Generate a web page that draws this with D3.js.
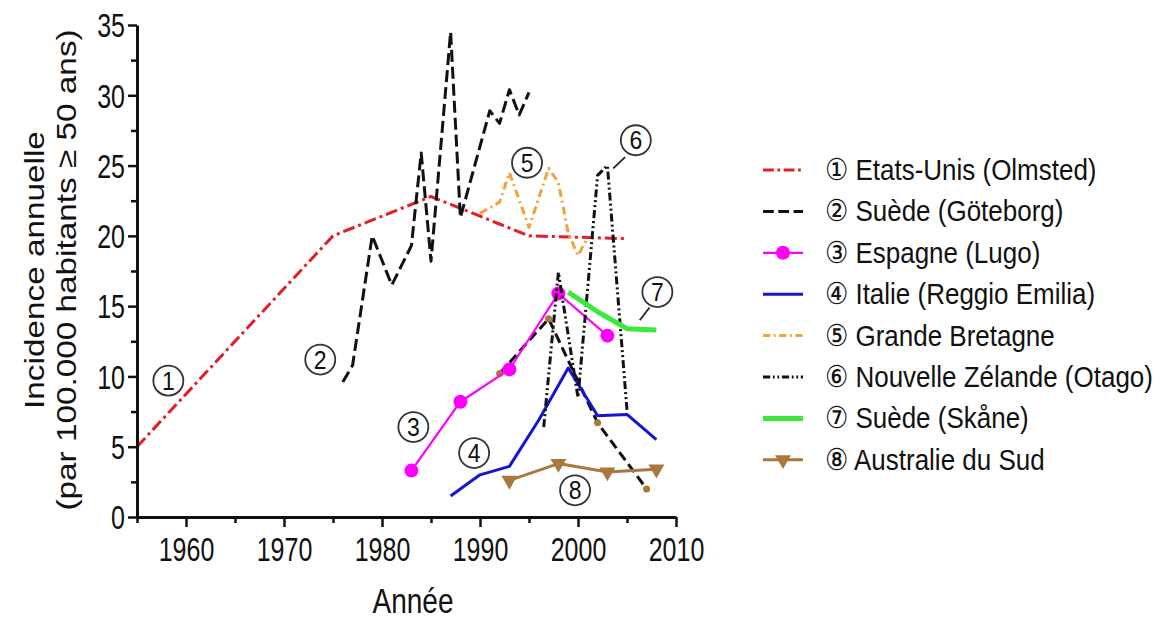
<!DOCTYPE html>
<html>
<head>
<meta charset="utf-8">
<script src="https://cdn.jsdelivr.net/npm/d3@7"></script>
<style>
  body { margin: 0; background: #fff; }
  text { font-family: "Liberation Sans", Arial, sans-serif; fill: #111; }
</style>
</head>
<body>
<svg id="chart" width="1165" height="621"></svg>
<script>
// Data: [year, incidence]
const olmsted   = [[1955, 5], [1975, 20], [1985, 22.8], [1995, 20], [2005, 19.8]];
const goteborg  = [[1976, 9.6], [1977, 10.8], [1979, 20], [1981, 16.5], [1983, 19.3], [1984, 25.9],
                   [1985, 18.2], [1987, 34.5], [1988, 21.3], [1991, 28.9], [1992, 28], [1993, 30.4],
                   [1994, 28.6], [1995, 30.2]];
const lugo      = [[1983, 3.3], [1988, 8.2], [1993, 10.5], [1998, 15.9], [2003, 12.9]];
const reggio    = [[1987, 1.5], [1990, 3.0], [1993, 3.6], [1996, 6.9], [1999, 10.6], [2002, 7.2],
                   [2005, 7.3], [2008, 5.5]];
const grandeBretagne = [[1990, 21.6], [1992, 22.4], [1993, 24.5], [1995, 20.6], [1997, 24.8],
                   [1998, 23.8], [1999, 20.2], [2000, 18.6], [2001, 19.9]];
const otago     = [[1996.5, 6.4], [1998, 17.4], [2000, 8.5], [2002, 24.3], [2003, 25], [2005, 7.6]];
const skane     = [[1999, 16], [2002, 14.6], [2005, 13.4], [2008, 13.3]];
const australie = [[1993, 2.6], [1998, 3.8], [2003, 3.2], [2008, 3.4]];
const extra     = [[1992, 10.2], [1997, 14.1], [2002, 6.7], [2007, 2.0]];

const xTicks = [1960, 1970, 1980, 1990, 2000, 2010];
const xMinor = [1955, 1965, 1975, 1985, 1995, 2005];
const yTicks = [0, 5, 10, 15, 20, 25, 30, 35];
const yMinor = [2.5, 7.5, 12.5, 17.5, 22.5, 27.5, 32.5];

const legendLabels = ["① Etats-Unis (Olmsted)", "② Suède (Göteborg)", "③ Espagne (Lugo)",
  "④ Italie (Reggio Emilia)", "⑤ Grande Bretagne", "⑥ Nouvelle Zélande (Otago)",
  "⑦ Suède (Skåne)", "⑧ Australie du Sud"];

// circled labels placed in data coords
const annotations = [["1", 1958.2, 9.7], ["2", 1973.7, 11.2], ["3", 1983.2, 6.4], ["4", 1989.4, 4.55],
  ["5", 1994.8, 25.2], ["6", 2005.9, 26.8], ["7", 2008.1, 16.0], ["8", 1999.7, 1.9]];
const leaders = [[[2004.8, 25.6], [2003.6, 24.8]], [[2007.3, 14.9], [2006.3, 14.0]]];

const svg = d3.select("#chart");
svg.append("rect").attr("width", 1165).attr("height", 621).attr("fill", "#fff");

const x = d3.scaleLinear().domain([1955, 2010]).range([137, 676]);
const y = d3.scaleLinear().domain([0, 35]).range([517, 25]);

// Series styles
const series = [
  { data: olmsted, color: "#e41e26", width: 3, dash: "12,4,3,4" },
  { data: goteborg, color: "#111", width: 3, dash: "12,5" },
  { data: lugo, color: "#f0f", width: 2.2, dash: null, marker: "circle" },
  { data: reggio, color: "#1414d4", width: 3, dash: null },
  { data: grandeBretagne, color: "#f2a33a", width: 3, dash: "8,4,2,4" },
  { data: otago, color: "#111", width: 3, dash: "8,3,2,3,2,3" },
  { data: skane, color: "#3de83d", width: 5, dash: null },
  { data: australie, color: "#a9783f", width: 3, dash: null, marker: "triangle" }
];

const line = d3.line().x(d => x(d[0])).y(d => y(d[1]));

// extra unlabeled series (black dashes with brown points)
svg.append("path").datum(extra)
  .attr("fill", "none").attr("stroke", "#111").attr("stroke-width", 3)
  .attr("stroke-dasharray", "10,5").attr("d", line);
svg.selectAll(".extraDot").data(extra).enter().append("circle")
  .attr("cx", d => x(d[0])).attr("cy", d => y(d[1])).attr("r", 3.5).attr("fill", "#a9783f");

series.forEach(s => {
  svg.append("path").datum(s.data)
    .attr("fill", "none")
    .attr("stroke", s.color)
    .attr("stroke-width", s.width)
    .attr("stroke-dasharray", s.dash)
    .attr("stroke-linejoin", "round")
    .attr("d", line);
  if (s.marker === "circle") {
    svg.selectAll(null).data(s.data).enter().append("circle")
      .attr("cx", d => x(d[0])).attr("cy", d => y(d[1])).attr("r", 7).attr("fill", s.color);
  }
  if (s.marker === "triangle") {
    svg.selectAll(null).data(s.data).enter().append("path")
      .attr("transform", d => `translate(${x(d[0])},${y(d[1])}) rotate(180)`)
      .attr("d", d3.symbol(d3.symbolTriangle, 110))
      .attr("fill", s.color);
  }
});

// Annotations
const ann = svg.append("g");
ann.selectAll("circle").data(annotations).enter().append("circle")
  .attr("cx", d => x(d[1])).attr("cy", d => y(d[2])).attr("r", 15)
  .attr("fill", "none").attr("stroke", "#333").attr("stroke-width", 1.8);
ann.selectAll("text").data(annotations).enter().append("text")
  .attr("transform", d => `translate(${x(d[1])},${y(d[2]) + 9}) scale(1,1.15)`)
  .attr("text-anchor", "middle").attr("font-size", 23).attr("fill", "#333").text(d => d[0]);
ann.selectAll("line").data(leaders).enter().append("line")
  .attr("x1", d => x(d[0][0])).attr("y1", d => y(d[0][1]))
  .attr("x2", d => x(d[1][0])).attr("y2", d => y(d[1][1]))
  .attr("stroke", "#222").attr("stroke-width", 1.8);

// Axes
const xAxis = svg.append("g").attr("transform", `translate(0,${y(0)})`)
  .call(d3.axisBottom(x).tickValues(xTicks).tickSize(10).tickSizeOuter(0).tickFormat(d3.format("d")));
svg.append("g").attr("transform", `translate(0,${y(0)})`)
  .call(d3.axisBottom(x).tickValues(xMinor).tickSize(6).tickFormat(""))
  .select(".domain").remove();
const yAxis = svg.append("g").attr("transform", `translate(${x(1955)},0)`)
  .call(d3.axisLeft(y).tickValues(yTicks).tickSize(9).tickSizeOuter(0));
svg.append("g").attr("transform", `translate(${x(1955)},0)`)
  .call(d3.axisLeft(y).tickValues(yMinor).tickSize(6).tickFormat(""))
  .select(".domain").remove();

svg.selectAll(".domain").attr("stroke", "#111").attr("stroke-width", 3);
svg.selectAll(".tick line").attr("stroke", "#111").attr("stroke-width", 2.5);
xAxis.selectAll("text").attr("font-size", 25).attr("y", 0).attr("dy", 0)
  .attr("transform", "translate(0,44) scale(1,1.3)")
  .attr("font-family", "Liberation Sans, Arial, sans-serif").attr("fill", "#111");
yAxis.selectAll("text").attr("font-size", 25).attr("x", 0).attr("dy", "0.36em")
  .attr("transform", "translate(-12,0) scale(1,1.3)")
  .attr("font-family", "Liberation Sans, Arial, sans-serif").attr("fill", "#111");

// Axis titles
svg.append("text").attr("transform", "translate(413,613) scale(1,1.25)").attr("text-anchor", "middle")
  .attr("font-size", 28).text("Année");
const yt = svg.append("text").attr("transform", "translate(44,270) rotate(-90) scale(1.19,1)")
  .attr("text-anchor", "middle").attr("font-size", 28);
yt.append("tspan").attr("x", 0).attr("y", 0).text("Incidence annuelle");
yt.append("tspan").attr("x", 0).attr("y", 32).text("(par 100.000 habitants  ≥ 50 ans)");

// Legend
const legend = svg.append("g");
const legendRow = i => 170 + i * 41.4;
series.forEach((s, i) => {
  const cy = legendRow(i);
  legend.append("line").attr("x1", 763).attr("x2", 803).attr("y1", cy).attr("y2", cy)
    .attr("stroke", s.color).attr("stroke-width", s.width)
    .attr("stroke-dasharray", s.dash ? s.dash.split(",").map(v => v * 0.9).join(",") : null);
  if (s.marker === "circle") legend.append("circle").attr("cx", 783).attr("cy", cy).attr("r", 7).attr("fill", s.color);
  if (s.marker === "triangle") legend.append("path")
    .attr("transform", `translate(783,${cy}) rotate(180)`)
    .attr("d", d3.symbol(d3.symbolTriangle, 110)).attr("fill", s.color);
  legend.append("text").attr("transform", `translate(825,${cy + 10}) scale(1,1.15)`)
    .attr("font-size", 26).text(legendLabels[i]);
});
</script>
</body>
</html>
